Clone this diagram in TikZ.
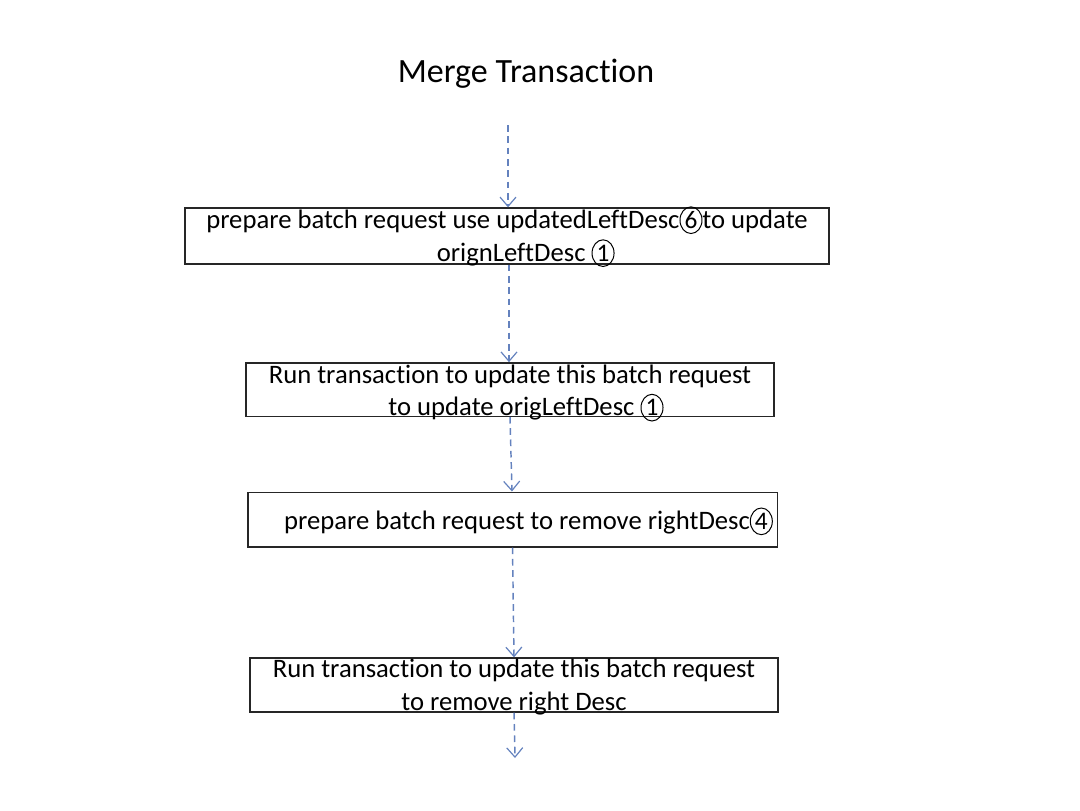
\documentclass[tikz,border=0pt]{standalone}
\usepackage{fontspec}
\setmainfont[Ligatures={NoCommon,NoContextual}]{Carlito}
\usetikzlibrary{arrows.meta,shapes.geometric}
\newcommand{\cnum}[1]{\smash{\tikz[baseline=(c.base)]\node[draw,ellipse,line width=0.75pt,inner sep=0pt,minimum width=16.5pt,minimum height=20pt,font=\fontsize{19}{20}\selectfont](c){#1};}}
\tikzset{
  flowbox/.style={draw=black!85,line width=1pt,rectangle,inner sep=0pt},
  flowtext/.style={align=center,inner sep=0pt,font=\fontsize{20}{24.5}\selectfont},
  flowarrow/.style={draw={rgb,255:red,100;green,130;blue,190},line width=1.1pt,dashed,
    dash pattern=on 5pt off 3.5pt,-{Straight Barb[length=7pt,width=12pt,line width=0.9pt]}}
}
\begin{document}
\begin{tikzpicture}[x=0.75pt,y=-0.75pt]
\useasboundingbox (0,0) rectangle (1080,810);
\node[font=\fontsize{25.5}{28}\selectfont] (title) at (526,74) {Merge Transaction};
\coordinate (start) at (508,125);
\node[flowbox,minimum width=483pt,minimum height=42pt] (b1) at (507,236) {};
\node[flowtext] (t1) at (507,238)
  {prepare batch request use updatedLeftDesc\cnum{6}to update\\\hspace*{28pt}orignLeftDesc \cnum{1}};
\node[flowbox,minimum width=396pt,minimum height=40pt] (b2) at (510,389.5) {};
\node[flowtext] (t2) at (510,392.5)
  {Run transaction to update this batch request\\\hspace*{24pt}to update origLeftDesc \cnum{1}};
\node[flowbox,minimum width=397pt,minimum height=41pt] (b3) at (512.5,519.5) {};
\node[flowtext] (t3) at (512.5,522.5)
  {\hspace*{24pt}prepare batch request to remove rightDesc\cnum{4}};
\node[flowbox,minimum width=396pt,minimum height=40.5pt] (b4) at (514,685) {};
\node[flowtext] (t4) at (514,687)
  {Run transaction to update this batch request\\to remove right Desc};
\coordinate (end) at (515,758);
\draw[flowarrow] (start) -- (start |- b1.north);
\draw[flowarrow] ([xshift=1.5pt]b1.south) -- ([xshift=-0.75pt]b2.north);
\draw[flowarrow] (b2.south) -- ([xshift=-0.4pt]b3.north);
\draw[flowarrow] (b3.south) -- (b4.north);
\draw[flowarrow] (b4.south) -- (end);
\end{tikzpicture}
\end{document}
